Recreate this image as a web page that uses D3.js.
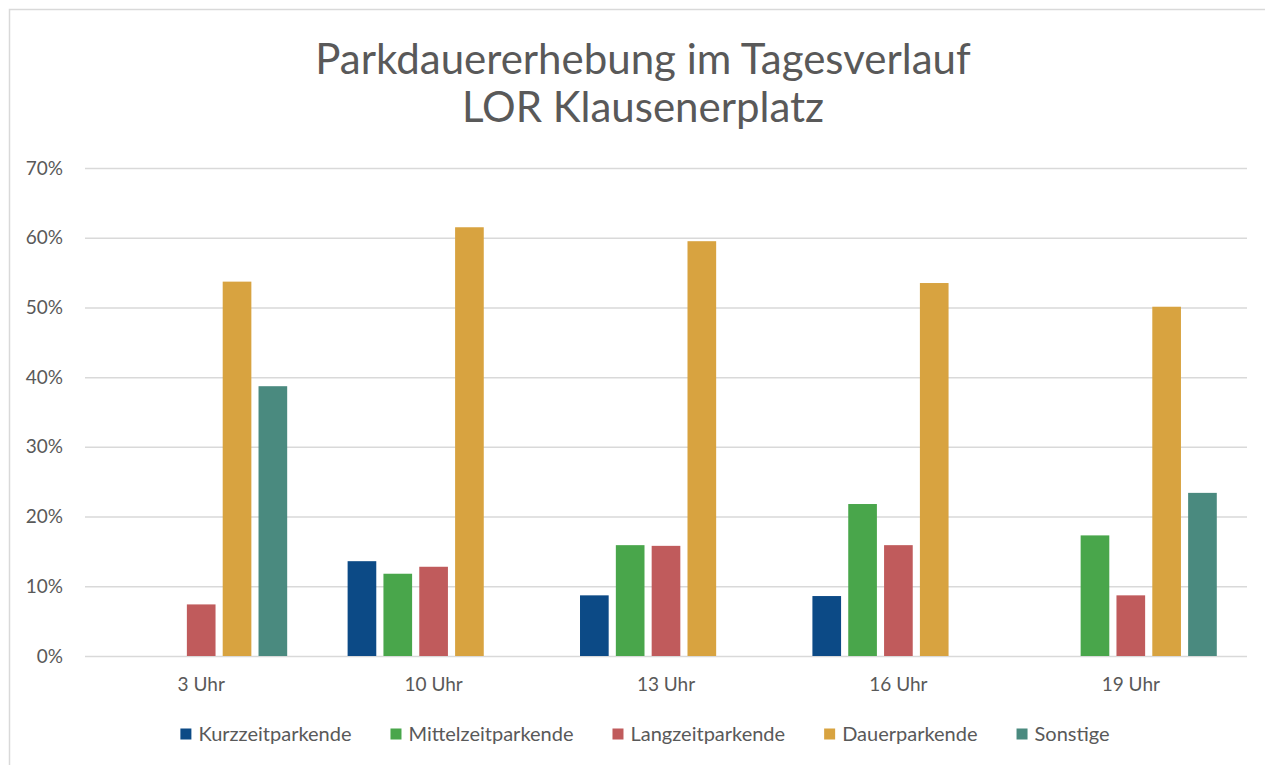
<!DOCTYPE html>
<html>
<head>
<meta charset="utf-8">
<script src="https://cdn.jsdelivr.net/npm/d3@7"></script>
<style>
  body { margin: 0; background: #fff; }
  svg { display: block; font-family: Lato, "Open Sans", sans-serif; }
</style>
</head>
<body>
<svg id="chart" width="1265" height="765"></svg>
<script>
// data
const categories = ["3 Uhr", "10 Uhr", "13 Uhr", "16 Uhr", "19 Uhr"];
const seriesNames = ["Kurzzeitparkende", "Mittelzeitparkende", "Langzeitparkende", "Dauerparkende", "Sonstige"];
const kurzzeit = [0, 0.136, 0.087, 0.086, 0];
const mittelzeit = [0, 0.118, 0.159, 0.218, 0.173];
const langzeit = [0.074, 0.128, 0.158, 0.159, 0.087];
const dauer = [0.537, 0.615, 0.595, 0.535, 0.501];
const sonstige = [0.387, 0, 0, 0, 0.234];
const yTicks = [0, 0.1, 0.2, 0.3, 0.4, 0.5, 0.6, 0.7];
const titleLines = ["Parkdauererhebung im Tagesverlauf", "LOR Klausenerplatz"];

const seriesValues = [kurzzeit, mittelzeit, langzeit, dauer, sonstige];
const colors = ["#0c4a86", "#49a64b", "#c05b5c", "#d8a340", "#4a8a7f"];
const textColor = "#595959";
const gridColor = "#d9d9d9";

const svg = d3.select("#chart");

// outer chart border (only top/left visible)
svg.append("rect")
  .attr("x", 9.5).attr("y", 9.5)
  .attr("width", 1300).attr("height", 800)
  .attr("fill", "none").attr("stroke", gridColor).attr("stroke-width", 1.5);

// title
svg.append("g").selectAll("text")
  .data(titleLines)
  .enter().append("text")
  .attr("x", 643)
  .attr("y", (d, i) => 74 + i * 48)
  .attr("text-anchor", "middle")
  .attr("fill", textColor)
  .style("font-size", "42px")
  .text(d => d);

// scales
const x0 = d3.scaleBand().domain(categories).range([85, 1247]);
const x1 = d3.scaleBand().domain(seriesNames)
  .range([x0.bandwidth() * 0.13, x0.bandwidth() * 0.87])
  .paddingInner(0.2);
const y = d3.scaleLinear().domain([0, 0.7]).range([656, 168]);

// y axis + gridlines
const yAxis = d3.axisLeft(y)
  .tickValues(yTicks)
  .tickFormat(d3.format(".0%"))
  .tickSize(-(1247 - 85))
  .tickPadding(22);
const gy = svg.append("g").attr("transform", "translate(85,0)").call(yAxis);
gy.select(".domain").remove();
gy.selectAll("line").attr("stroke", gridColor).attr("stroke-width", 1.5);
gy.selectAll("text").attr("fill", textColor).style("font-size", "19px").style("font-family", "Lato, sans-serif");

// x axis labels
const xAxis = d3.axisBottom(x0).tickSize(0).tickPadding(22);
const gx = svg.append("g").attr("transform", "translate(0,656)").call(xAxis);
gx.select(".domain").remove();
gx.selectAll("text").attr("fill", textColor).style("font-size", "19px").style("font-family", "Lato, sans-serif");

// bars
const rows = [];
categories.forEach((c, ci) => {
  seriesNames.forEach((s, si) => {
    rows.push({ cat: c, series: s, value: seriesValues[si][ci], color: colors[si] });
  });
});
svg.append("g").selectAll("rect")
  .data(rows.filter(d => d.value > 0))
  .enter().append("rect")
  .attr("x", d => x0(d.cat) + x1(d.series))
  .attr("y", d => y(d.value))
  .attr("width", x1.bandwidth())
  .attr("height", d => y(0) - y(d.value))
  .attr("fill", d => d.color);

// legend
const legend = svg.append("g");
const items = legend.selectAll("g")
  .data(seriesNames)
  .enter().append("g");
items.append("rect")
  .attr("width", 11).attr("height", 11)
  .attr("y", -5.5)
  .attr("fill", (d, i) => colors[i]);
items.append("text")
  .attr("x", 18)
  .attr("dy", "0.35em")
  .attr("fill", textColor)
  .style("font-size", "20px")
  .text(d => d);
const widths = [];
items.each(function () { widths.push(this.getBBox().width); });
const gap = 39;
const total = d3.sum(widths) + gap * (widths.length - 1);
let lx = 645 - total / 2;
items.attr("transform", (d, i) => {
  const t = `translate(${lx},734)`;
  lx += widths[i] + gap;
  return t;
});
</script>
</body>
</html>
